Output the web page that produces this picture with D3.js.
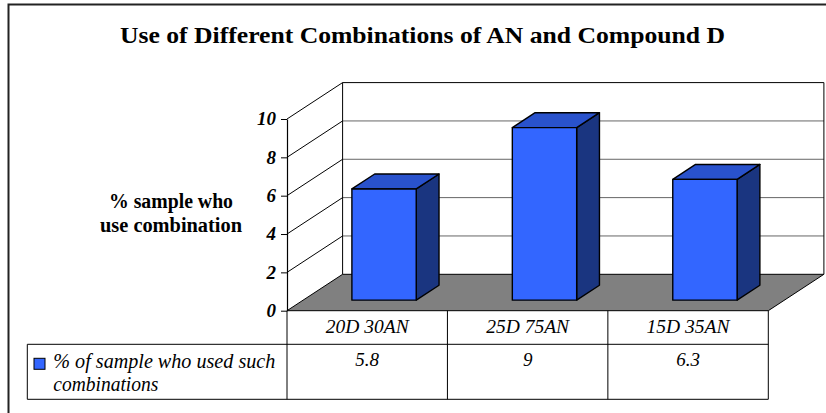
<!DOCTYPE html>
<html>
<head>
<meta charset="utf-8">
<script src="https://cdn.jsdelivr.net/npm/d3@7/dist/d3.min.js"></script>
<style>
  html, body { margin: 0; padding: 0; background: #fff; }
  svg { display: block; }
</style>
</head>
<body>
<svg id="chart" width="826" height="413"></svg>
<script>
// ---- data ----
const categories = ["20D 30AN", "25D 75AN", "15D 35AN"];
const values = [5.8, 9, 6.3];
const valueLabels = ["5.8", "9", "6.3"];
const yTicks = [0, 2, 4, 6, 8, 10];
const seriesName = ["% of sample who used such", "combinations"];
const titleText = "Use of Different Combinations of AN and Compound D";
const yLabelLines = ["% sample who", "use combination"];

// ---- layout ----
const FONT = "'Liberation Serif', 'Times New Roman', Times, 'DejaVu Serif', 'Noto Serif', serif";
const svg = d3.select("#chart").style("font-family", FONT);
const front = { left: 287, right: 768.3, bottom: 310.7, top: 119 };
const depth = { dx: 55.6, dy: -36.4 };
const barDepth = { f0: 0.29, f1: 0.70 };

const x = d3.scaleBand().domain(categories).range([front.left, front.right]).padding(0);
const y = d3.scaleLinear().domain([0, 10]).range([front.bottom, front.top]);

const txt = (sel) => sel.attr("font-family", FONT).attr("fill", "#000");

// outer chart border (extends past right/bottom)
svg.append("rect").attr("x", 8.5).attr("y", 4.5).attr("width", 900).attr("height", 500)
  .attr("fill", "none").attr("stroke", "#222").attr("stroke-width", 2);

// title
svg.append("text").call(txt).attr("x", 422.5).attr("y", 43.3).attr("text-anchor", "middle")
  .attr("font-size", 24).attr("font-weight", "bold")
  .attr("textLength", 605).attr("lengthAdjust", "spacingAndGlyphs")
  .text(titleText);

// y axis label
const yLabW = [124, 142];
yLabelLines.forEach((t, i) => {
  svg.append("text").call(txt).attr("x", 171).attr("y", 208.3 + i * 24).attr("text-anchor", "middle")
    .attr("font-size", 20).attr("font-weight", "bold")
    .attr("textLength", yLabW[i]).attr("lengthAdjust", "spacingAndGlyphs")
    .text(t);
});

const bx = front.left + depth.dx, bxr = front.right + depth.dx;

// floor
const floorPts = [[front.left, y(0)], [front.right, y(0)], [bxr, y(0) + depth.dy], [bx, y(0) + depth.dy]];
svg.append("polygon").attr("points", floorPts.map(p => p.join(",")).join(" "))
  .attr("fill", "#808080").attr("stroke", "#000").attr("stroke-width", 1);

// back wall gridlines
svg.append("g").selectAll("line").data(yTicks.filter(t => t > 0 && t < 10)).join("line")
  .attr("x1", bx).attr("x2", bxr)
  .attr("y1", d => y(d) + depth.dy).attr("y2", d => y(d) + depth.dy)
  .attr("stroke", "#666").attr("stroke-width", 1);
svg.append("line").attr("x1", bx).attr("x2", bxr).attr("y1", y(10) + depth.dy).attr("y2", y(10) + depth.dy)
  .attr("stroke", "#000").attr("stroke-width", 1);
[bx, bxr].forEach(xx => {
  svg.append("line").attr("x1", xx).attr("x2", xx).attr("y1", y(10) + depth.dy).attr("y2", y(0) + depth.dy)
    .attr("stroke", "#000").attr("stroke-width", 1);
});
// side wall diagonals
svg.append("g").selectAll("line").data(yTicks.filter(t => t > 0)).join("line")
  .attr("x1", front.left).attr("x2", bx)
  .attr("y1", d => y(d)).attr("y2", d => y(d) + depth.dy)
  .attr("stroke", "#000").attr("stroke-width", 1);

// bars
const bw = x.bandwidth();
const bars = svg.append("g").selectAll("g").data(categories).join("g");
bars.each(function (c, i) {
  const g = d3.select(this);
  const ox = depth.dx * barDepth.f0, oy = depth.dy * barDepth.f0;
  const ddx = depth.dx * (barDepth.f1 - barDepth.f0), ddy = depth.dy * (barDepth.f1 - barDepth.f0);
  const x0 = x(c) + ox + bw * 0.304, x1 = x0 + bw * 0.401;
  const yb = y(0) + oy, yt = y(values[i]) + oy;
  const poly = (pts, fill) => g.append("polygon").attr("points", pts.map(q => q.join(",")).join(" "))
    .attr("fill", fill).attr("stroke", "#000").attr("stroke-width", 1.4).attr("stroke-linejoin", "round");
  poly([[x1, yb], [x1 + ddx, yb + ddy], [x1 + ddx, yt + ddy], [x1, yt]], "#1a3580");
  poly([[x0, yt], [x1, yt], [x1 + ddx, yt + ddy], [x0 + ddx, yt + ddy]], "#2952cc");
  poly([[x0, yb], [x1, yb], [x1, yt], [x0, yt]], "#3366ff");
});

// y axis
const axis = d3.axisLeft(y).tickValues(yTicks).tickSize(6).tickSizeOuter(0).tickPadding(5);
const ag = svg.append("g").attr("transform", `translate(${front.left},0)`).call(axis);
ag.attr("font-family", FONT);
ag.select(".domain").attr("stroke", "#000").attr("stroke-width", 1.2);
ag.selectAll(".tick line").attr("stroke", "#000");
ag.selectAll(".tick text").call(txt)
  .attr("font-size", 19).attr("font-weight", "bold").attr("font-style", "italic")
  .attr("dy", "0.3em").attr("x", -11);

// data table
const tbl = svg.append("g").attr("stroke", "#000").attr("stroke-width", 1);
const rowTop = y(0), rowMid = 344.3, rowBot = 399.3, tblLeft = 27.3;
tbl.append("line").attr("x1", tblLeft).attr("x2", front.right).attr("y1", rowMid).attr("y2", rowMid);
tbl.append("line").attr("x1", tblLeft).attr("x2", front.right).attr("y1", rowBot).attr("y2", rowBot);
tbl.append("line").attr("x1", tblLeft).attr("x2", tblLeft).attr("y1", rowMid).attr("y2", rowBot);
const colEdges = categories.map(c => x(c)).concat([x(categories[categories.length - 1]) + bw]);
tbl.selectAll(".col").data(colEdges).join("line").attr("class", "col")
  .attr("x1", d => d).attr("x2", d => d).attr("y1", rowTop).attr("y2", rowBot);

svg.append("g").selectAll("text").data(categories).join("text").call(txt)
  .attr("x", d => x(d) + bw / 2).attr("y", 332.7).attr("text-anchor", "middle")
  .attr("font-size", 19).attr("font-style", "italic")
  .attr("textLength", 83).attr("lengthAdjust", "spacingAndGlyphs")
  .text(d => d);

svg.append("g").selectAll("text").data(valueLabels).join("text").call(txt)
  .attr("x", (d, i) => x(categories[i]) + bw / 2).attr("y", 365.7).attr("text-anchor", "middle")
  .attr("font-size", 19).attr("font-style", "italic")
  .text(d => d);

// legend key
svg.append("rect").attr("x", 34).attr("y", 358.3).attr("width", 11).attr("height", 11)
  .attr("fill", "#3366ff").attr("stroke", "#000").attr("stroke-width", 1);
const legW = [222, 105];
seriesName.forEach((t, i) => {
  svg.append("text").call(txt).attr("x", 53.3).attr("y", 368 + i * 22.7)
    .attr("font-size", 20).attr("font-style", "italic")
    .attr("textLength", legW[i]).attr("lengthAdjust", "spacingAndGlyphs")
    .text(t);
});
</script>
</body>
</html>
